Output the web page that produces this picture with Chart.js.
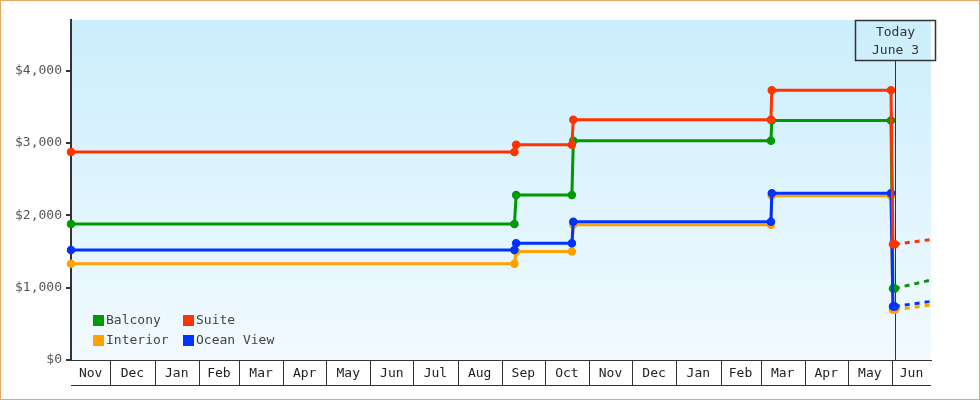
<!DOCTYPE html>
<html>
<head>
<meta charset="utf-8">
<script src="https://cdn.jsdelivr.net/npm/chart.js@4/dist/chart.umd.min.js"></script>
<style>
  body { margin: 0; background: #fff; }
  #wrap { width: 978px; height: 398px; border: 1px solid #e8a862; }
</style>
</head>
<body>
<div id="wrap"><canvas id="fares" width="978" height="398"></canvas></div>
<script>
// days counted from Nov 1 of the first year
const days = [2.5, 312.8, 314, 353, 354, 492.3, 492.9, 576.3, 577.7, 579]
const balcony   = [1880, 1880, 2280, 2280, 3030, 3030, 3310, 3310, 990, 990]
const suite     = [2875, 2875, 2975, 2975, 3320, 3320, 3730, 3730, 1600, 1600]
const interior  = [1330, 1330, 1500, 1500, 1870, 1870, 2270, 2270, 695, 695]
const oceanView = [1520, 1520, 1615, 1615, 1910, 1910, 2305, 2305, 740, 740]

// dashed forecast after today
const forecastDays = [579, 604.3]
const balconyForecast   = [990, 1105]
const suiteForecast     = [1600, 1665]
const interiorForecast  = [695, 760]
const oceanViewForecast = [740, 810]

const monthNames = ['Nov','Dec','Jan','Feb','Mar','Apr','May','Jun','Jul','Aug','Sep','Oct','Nov','Dec','Jan','Feb','Mar','Apr','May','Jun']
const monthStarts = [0,30,61,92,120,151,181,212,242,273,304,334,365,395,426,457,485,516,546,577,607]
const priceTicks = [0, 1000, 2000, 3000, 4000]

const todayDay = 579
const todayText = ['Today', 'June 3']

const xMin = 2.5, xMax = 604.3

const pts = (xs, ys) => xs.map((x, i) => ({x: x, y: ys[i]}))

function serie(label, xs, ys, color, order) {
  return {
    label: label, data: pts(xs, ys), borderColor: color, backgroundColor: color,
    borderWidth: 3, pointRadius: 3.5, pointBorderWidth: 1.5, pointHoverRadius: 3.5,
    tension: 0, order: order, clip: false
  }
}
function forecast(xs, ys, color, order) {
  return {
    label: '', data: pts(xs, ys), borderColor: color, borderWidth: 3, borderDash: [5, 5],
    pointRadius: 0, tension: 0, order: order, forecast: true
  }
}

const FONT = 'DejaVu Sans Mono'
Chart.defaults.font.family = FONT
Chart.defaults.font.size = 13

// blue gradient behind the plot
const plotBg = {
  id: 'plotBg',
  beforeDraw(chart) {
    const {ctx, chartArea: a} = chart
    const g = ctx.createLinearGradient(0, a.top, 0, a.bottom)
    g.addColorStop(0, '#cbeefc')
    g.addColorStop(1, '#f2faff')
    ctx.save()
    ctx.fillStyle = g
    ctx.fillRect(a.left, a.top, a.right - a.left, a.bottom - a.top)
    ctx.restore()
  }
}

// today marker + box
const today = {
  id: 'today',
  beforeDatasetsDraw(chart) {
    const {ctx, chartArea: a} = chart
    const x = Math.round(chart.scales.x.getPixelForValue(todayDay)) + 0.5
    const w = 80, h = 40, top = a.top + 0.5
    ctx.save()
    ctx.strokeStyle = '#333'
    ctx.lineWidth = 1
    ctx.beginPath()
    ctx.moveTo(x, top + h)
    ctx.lineTo(x, a.bottom)
    ctx.stroke()
    ctx.lineWidth = 1.5
    ctx.strokeRect(x - w / 2, top, w, h)
    ctx.fillStyle = '#333'
    ctx.font = '13px ' + FONT
    ctx.textAlign = 'center'
    ctx.textBaseline = 'middle'
    ctx.fillText(todayText[0], x, top + 12)
    ctx.fillText(todayText[1], x, top + 30)
    ctx.restore()
  }
}

// month cells under the x axis
const monthCells = {
  id: 'monthCells',
  afterDraw(chart) {
    const {ctx, chartArea: a} = chart
    const sx = chart.scales.x
    const yb = a.bottom + 25.5
    ctx.save()
    ctx.strokeStyle = '#333'
    ctx.lineWidth = 1
    ctx.beginPath()
    monthStarts.forEach(d => {
      if (d <= xMin || d >= xMax) return
      const x = Math.round(sx.getPixelForValue(d)) + 0.5
      ctx.moveTo(x, a.bottom)
      ctx.lineTo(x, yb)
    })
    ctx.moveTo(a.left, yb)
    ctx.lineTo(a.right, yb)
    ctx.stroke()
    ctx.restore()
  }
}

// legend inside the plot, 2 columns
const boxLegend = {
  id: 'boxLegend',
  afterDatasetsDraw(chart) {
    const {ctx, chartArea: a} = chart
    const sets = chart.data.datasets.filter(d => !d.forecast)
    ctx.save()
    ctx.font = '13px ' + FONT
    ctx.textBaseline = 'middle'
    sets.forEach((ds, i) => {
      const bx = a.left + 22 + (i % 2) * 90
      const by = a.bottom - 45 + Math.floor(i / 2) * 20
      ctx.fillStyle = ds.borderColor
      ctx.fillRect(bx, by, 11, 11)
      ctx.fillStyle = '#444'
      ctx.fillText(ds.label, bx + 13, by + 6)
    })
    ctx.restore()
  }
}

new Chart(document.getElementById('fares'), {
  type: 'line',
  data: {
    datasets: [
      serie('Balcony', days, balcony, '#009900', 2),
      serie('Suite', days, suite, '#ff3300', 0),
      serie('Interior', days, interior, '#ffa200', 3),
      serie('Ocean View', days, oceanView, '#0033ff', 1),
      forecast(forecastDays, balconyForecast, '#009900', 6),
      forecast(forecastDays, suiteForecast, '#ff3300', 4),
      forecast(forecastDays, interiorForecast, '#ffa200', 7),
      forecast(forecastDays, oceanViewForecast, '#0033ff', 5)
    ]
  },
  options: {
    responsive: false,
    devicePixelRatio: 1,
    animation: false,
    events: [],
    layout: { padding: { top: 19, right: 48, bottom: 13, left: 0 } },
    plugins: { legend: { display: false }, tooltip: { enabled: false } },
    scales: {
      x: {
        type: 'linear', min: xMin, max: xMax,
        afterFit: s => { s.height = 26 },
        afterBuildTicks: s => {
          s.ticks = monthNames.map((m, i) => ({
            value: (Math.max(monthStarts[i], xMin) + Math.min(monthStarts[i + 1], xMax)) / 2
          }))
        },
        ticks: {
          autoSkip: false, maxRotation: 0, padding: 6, color: '#222',
          callback: (v, i) => monthNames[i]
        },
        grid: { display: false, drawTicks: false },
        border: { display: true, color: '#333', width: 1 }
      },
      y: {
        min: 0, max: 4700,
        afterFit: s => { s.width = 70 },
        afterBuildTicks: s => { s.ticks = priceTicks.map(v => ({value: v})) },
        ticks: {
          padding: 4, color: '#555',
          callback: v => '$' + v.toLocaleString('en-US')
        },
        grid: { drawOnChartArea: false, drawTicks: true, tickLength: 5, lineWidth: 2, color: '#333' },
        border: { display: true, color: '#333', width: 2 }
      }
    }
  },
  plugins: [plotBg, today, monthCells, boxLegend]
})
</script>
</body>
</html>
